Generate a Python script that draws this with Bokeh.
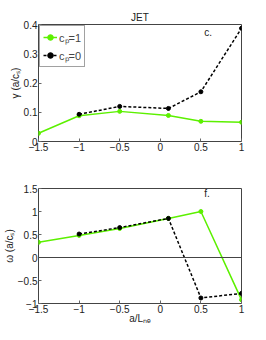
from bokeh.plotting import figure
from bokeh.layouts import column
from bokeh.models import Range1d, Legend, LegendItem, FixedTicker, Span, Label
from bokeh.embed import file_html
from bokeh.resources import INLINE

x_green = [-1.5, -1, -0.5, 0.1, 0.5, 1]
x_black = [-1, -0.5, 0.1, 0.5, 1]
gamma_cp1 = [0.028, 0.088, 0.103, 0.089, 0.069, 0.066]
gamma_cp0 = [0.093, 0.120, 0.113, 0.170, 0.387]
omega_cp1 = [0.33, 0.48, 0.63, 0.85, 1.0, -0.92]
omega_cp0 = [0.51, 0.65, 0.85, -0.88, -0.78]
xticks = [-1.5, -1, -0.5, 0, 0.5, 1]
gticks = [0, 0.1, 0.2, 0.3, 0.4]
oticks = [-1, -0.5, 0, 0.5, 1, 1.5]
xlabels = {-1.5: "\u22121.5", -1: "\u22121", -0.5: "\u22120.5", 0: "0", 0.5: "0.5", 1: "1"}
glabels = {0: "0", 0.1: "0.1", 0.2: "0.2", 0.3: "0.3", 0.4: "0.4"}
olabels = {-1: "\u22121", -0.5: "\u22120.5", 0: "0", 0.5: "0.5", 1: "1", 1.5: "1.5"}

GREEN = "#5cf000"
FONT = "Liberation Sans"
TXT = "#222222"

def style(p, xt, yt, xl, yl):
    p.outline_line_color = "#444444"
    p.outline_line_width = 1
    p.grid.visible = False
    p.xaxis.ticker = FixedTicker(ticks=xt)
    p.yaxis.ticker = FixedTicker(ticks=yt)
    p.xaxis.major_label_overrides = xl
    p.yaxis.major_label_overrides = yl
    for ax in (p.xaxis[0], p.yaxis[0]):
        ax.major_tick_in = 3
        ax.major_tick_out = 0
        ax.major_tick_line_color = "#666666"
        ax.minor_tick_line_color = None
        ax.axis_line_color = None
        ax.major_label_text_font = FONT
        ax.major_label_text_font_size = "10px"
        ax.major_label_text_color = TXT
        ax.major_label_standoff = 1
        ax.axis_label_text_font = FONT
        ax.axis_label_text_font_size = "10px"
        ax.axis_label_text_font_style = "normal"
        ax.axis_label_text_color = TXT
        ax.axis_label_standoff = 0
    p.background_fill_color = "white"
    p.border_fill_color = "white"

p1 = figure(frame_width=203, frame_height=117, output_backend="svg", toolbar_location=None,
            x_range=Range1d(-1.5, 1), y_range=Range1d(0, 0.4),
            min_border_left=36, min_border_right=16, min_border_top=24, min_border_bottom=22,
            title="JET")
p1.title.align = "center"
p1.title.text_font = FONT
p1.title.text_font_size = "10px"
p1.title.text_font_style = "normal"
p1.title.text_color = TXT
p1.title.standoff = 4
style(p1, xticks, gticks, xlabels, glabels)
p1.yaxis.axis_label = "\u03b3 (a/c\u209b)"

g1l = p1.line(x_green, gamma_cp1, color=GREEN, line_width=1.5)
g1m = p1.scatter(x_green, gamma_cp1, color=GREEN, size=4)
b1l = p1.line(x_black, gamma_cp0, color="black", line_width=1.5, line_dash="3 2")
b1m = p1.scatter(x_black, gamma_cp0, color="black", size=4)
p1.add_layout(Label(x=0.54, y=0.355, text="c.", text_font=FONT, text_font_size="10px", text_color=TXT))

leg = Legend(items=[LegendItem(label="c\u209a=1", renderers=[g1l, g1m]),
                    LegendItem(label="c\u209a=0", renderers=[b1l, b1m])],
             location="top_left", margin=1, padding=3, spacing=2,
             glyph_width=14, glyph_height=16, label_standoff=2,
             label_text_font=FONT, label_text_font_size="11px",
             border_line_color="#444444", label_height=16)
p1.add_layout(leg)

p2 = figure(frame_width=203, frame_height=115, output_backend="svg", toolbar_location=None,
            x_range=Range1d(-1.5, 1), y_range=Range1d(-1, 1.5),
            min_border_left=36, min_border_right=16, min_border_top=25, min_border_bottom=33)
style(p2, xticks, oticks, xlabels, olabels)
p2.yaxis.axis_label = "\u03c9 (a/c\u209b)"
p2.xaxis.axis_label = "a/L\u2099\u2091"
p2.xaxis.axis_label_standoff = -3
p2.add_layout(Span(location=0, dimension="width", line_color="#444444", line_width=1))
p2.line(x_green, omega_cp1, color=GREEN, line_width=1.5)
p2.scatter(x_green, omega_cp1, color=GREEN, size=4)
p2.line(x_black, omega_cp0, color="black", line_width=1.5, line_dash="3 2")
p2.scatter(x_black, omega_cp0, color="black", size=4)
p2.add_layout(Label(x=0.54, y=1.28, text="f.", text_font=FONT, text_font_size="10px", text_color=TXT))

layout = column(p1, p2, spacing=0)
open("out.html", "w").write(file_html(layout, INLINE))
